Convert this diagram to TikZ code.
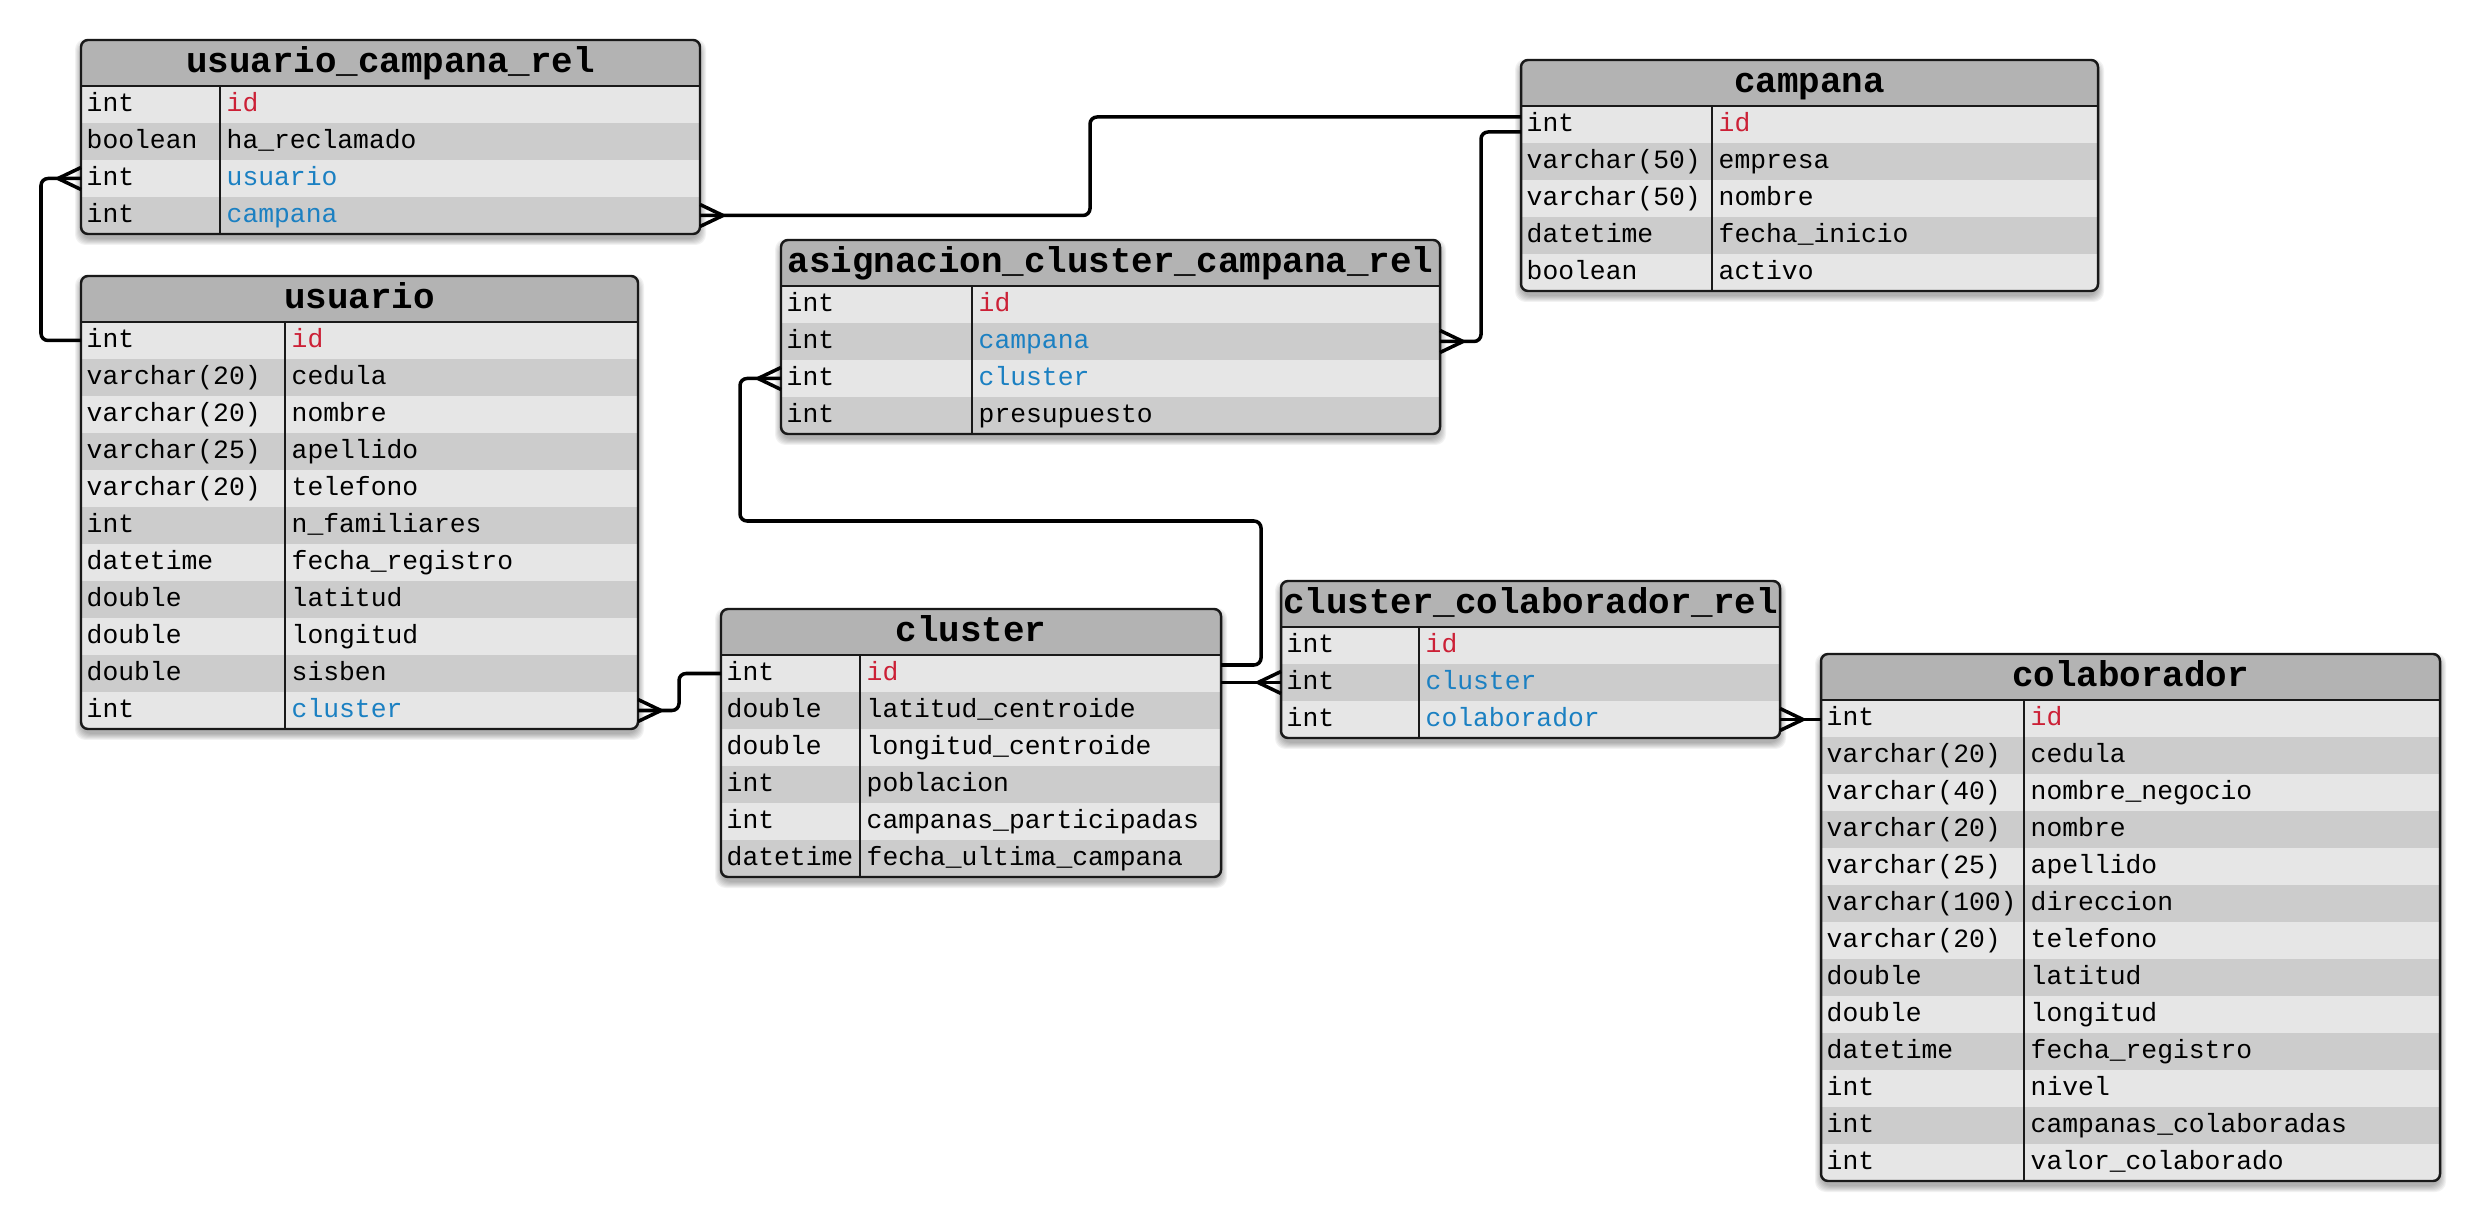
\documentclass[tikz,border=0pt]{standalone}
\usepackage{fontspec}
\setmonofont{Liberation Mono}
\usetikzlibrary{arrows.meta}

\definecolor{headgray}{HTML}{B3B3B3}
\definecolor{rowodd}{HTML}{E6E6E6}
\definecolor{roweven}{HTML}{CCCCCC}
\definecolor{pkred}{HTML}{CC2036}
\definecolor{fkblue}{HTML}{1B80C2}

% crow's foot (many) end of a relation
\pgfdeclarearrow{
  name = Crow,
  parameters = {\the\pgfarrowlength,\the\pgfarrowwidth},
  setup code = {
    \pgfarrowssettipend{0pt}
    \pgfarrowssetlineend{0pt}
    \pgfarrowssetbackend{-\pgfarrowlength}
    \pgfarrowssetvisualbackend{-\pgfarrowlength}
    \pgfarrowshullpoint{0pt}{.5\pgfarrowwidth}
    \pgfarrowshullpoint{0pt}{-.5\pgfarrowwidth}
    \pgfarrowshullpoint{-\pgfarrowlength}{0pt}
    \pgfarrowssavethe\pgfarrowlength
    \pgfarrowssavethe\pgfarrowwidth
  },
  drawing code = {
    \pgfsetdash{}{0pt}
    \pgfpathmoveto{\pgfqpoint{0pt}{.5\pgfarrowwidth}}
    \pgfpathlineto{\pgfqpoint{-\pgfarrowlength}{0pt}}
    \pgfpathlineto{\pgfqpoint{0pt}{-.5\pgfarrowwidth}}
    \pgfusepathqstroke
  },
  defaults = {length=2.3mm, width=2.2mm}
}

% one table: name, top left, width, type column, rows, type/field/colour list
\newcommand{\erdtable}[6]{%
  \begin{scope}[shift={#2}]
    \pgfmathsetmacro{\tblh}{46+37*#5}
    \foreach \s in {0,...,6}
      \fill[tblshadow] (-\s,5-\s) rectangle (#3+\s,\tblh+5+\s);
    \begin{scope}
      \clip[rounded corners=2pt] (0,0) rectangle (#3,\tblh);
      \node[tblhead, minimum width=#3*0.1mm] (#1) at (0,0) {#1};
      \foreach \type/\field/\kind [count=\i] in {#6} {
        \ifodd\i \def\rowfill{rowodd}\else\def\rowfill{roweven}\fi
        \node[tblrow, fill=\rowfill, minimum width=#3*0.1mm] (#1-\field) at (0,{46+37*(\i-1)}) {};
        \node[cell] at ([xshift=0.5mm]#1-\field.west) {\type};
        \node[cell, text=\kind] at ([xshift={(#4+6)*0.1mm}]#1-\field.west) {\field};
      }
    \end{scope}
    \draw[tblline, rounded corners=2pt] (0,0) rectangle (#3,\tblh);
    \draw[tblline] (0,46) -- (#3,46);
    \draw[tblline] (#4,46) -- (#4,\tblh);
  \end{scope}
}

\begin{document}
\catcode`\_=12
\begin{tikzpicture}[x=0.1mm, y=-0.1mm,
    font=\ttfamily\fontsize{7.5}{9}\selectfont,
    tblshadow/.style={fill=black, opacity=0.05, rounded corners=3pt},
    tblhead/.style={anchor=north west, fill=headgray, inner sep=0, outer sep=0,
      minimum height=4.6mm, text height=7.6pt, text depth=2pt,
      font=\ttfamily\bfseries\fontsize{10.2}{12}\selectfont},
    tblrow/.style={anchor=north west, inner sep=0, outer sep=0, minimum height=3.7mm},
    cell/.style={anchor=west, inner sep=0, text height=5.3pt, text depth=1.5pt},
    tblline/.style={line width=0.7pt, draw=black!90},
    rel/.style={line width=1pt, rounded corners=2pt}]
  \useasboundingbox (0,0) rectangle (2481,1221);

  \erdtable{usuario_campana_rel}{(81,40)}{619}{139}{4}{int/id/pkred, boolean/ha_reclamado/black,
    int/usuario/fkblue, int/campana/fkblue}
  \erdtable{usuario}{(81,276)}{557}{204}{11}{int/id/pkred, varchar(20)/cedula/black,
    varchar(20)/nombre/black, varchar(25)/apellido/black, varchar(20)/telefono/black,
    int/n_familiares/black, datetime/fecha_registro/black, double/latitud/black,
    double/longitud/black, double/sisben/black, int/cluster/fkblue}
  \erdtable{campana}{(1521,60)}{577}{191}{5}{int/id/pkred, varchar(50)/empresa/black,
    varchar(50)/nombre/black, datetime/fecha_inicio/black, boolean/activo/black}
  \erdtable{asignacion_cluster_campana_rel}{(781,240)}{659}{191}{4}{int/id/pkred,
    int/campana/fkblue, int/cluster/fkblue, int/presupuesto/black}
  \erdtable{cluster}{(721,609)}{500}{139}{6}{int/id/pkred, double/latitud_centroide/black,
    double/longitud_centroide/black, int/poblacion/black, int/campanas_participadas/black,
    datetime/fecha_ultima_campana/black}
  \erdtable{cluster_colaborador_rel}{(1281,581)}{499}{138}{3}{int/id/pkred,
    int/cluster/fkblue, int/colaborador/fkblue}
  \erdtable{colaborador}{(1821,654)}{619}{203}{13}{int/id/pkred, varchar(20)/cedula/black,
    varchar(40)/nombre_negocio/black, varchar(20)/nombre/black, varchar(25)/apellido/black,
    varchar(100)/direccion/black, varchar(20)/telefono/black, double/latitud/black,
    double/longitud/black, datetime/fecha_registro/black, int/nivel/black,
    int/campanas_colaboradas/black, int/valor_colaborado/black}

  % relations
  \draw[rel, -Crow] (usuario-id.west) -- ++(-40,0) |- (usuario_campana_rel-usuario.west);
  \draw[rel, Crow-] (usuario_campana_rel-campana.east) -- ++(390,0) |- ([yshift=0.75mm]campana-id.west);
  \draw[rel, Crow-] (asignacion_cluster_campana_rel-campana.east) -- ++(41,0) |- ([yshift=-0.75mm]campana-id.west);
  \draw[rel, Crow-] (asignacion_cluster_campana_rel-cluster.west) -- ++(-41,0) -- ++(0,142.5) -- ++(521,0)
    |- ([yshift=0.85mm]cluster-id.east);
  \draw[rel, Crow-] (usuario-cluster.east) -- ++(41,0) |- (cluster-id.west);
  \draw[rel, -Crow] (cluster-id.east |- cluster_colaborador_rel-cluster.west) -- (cluster_colaborador_rel-cluster.west);
  \draw[rel, Crow-] (cluster_colaborador_rel-colaborador.east) -- (cluster_colaborador_rel-colaborador.east -| colaborador-id.west);
\end{tikzpicture}
\end{document}
